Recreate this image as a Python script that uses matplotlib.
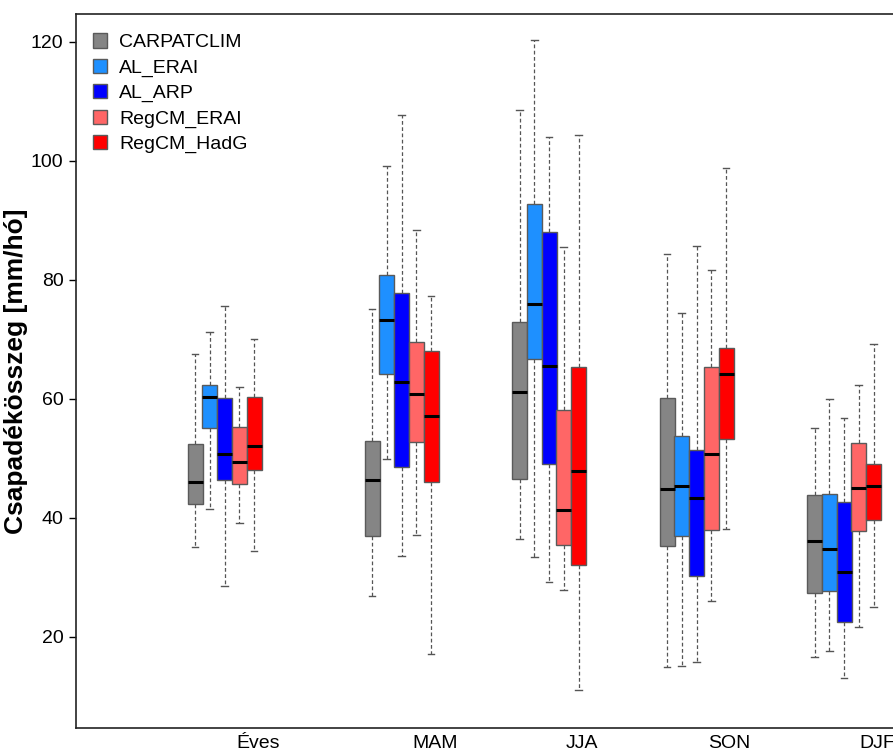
import matplotlib
matplotlib.use("Agg")
import matplotlib.pyplot as plt
from matplotlib.patches import Patch

plt.rcParams["font.family"] = ["Liberation Sans", "DejaVu Sans"]

seasons = ["Éves", "MAM", "JJA", "SON", "DJF"]
models = ["CARPATCLIM", "AL_ERAI", "AL_ARP", "RegCM_ERAI", "RegCM_HadG"]
colors = ["#858585", "#1E90FF", "#0000FF", "#FF6666", "#FF0000"]

# per model: lists over seasons (Éves, MAM, JJA, SON, DJF)
whislo = {
    "CARPATCLIM": [35.2, 26.9, 36.5, 14.9, 16.6],
    "AL_ERAI": [41.5, 49.9, 33.4, 15.2, 17.6],
    "AL_ARP": [28.5, 33.6, 29.3, 15.8, 13.1],
    "RegCM_ERAI": [39.1, 37.1, 27.9, 26.1, 21.7],
    "RegCM_HadG": [34.5, 17.1, 11.1, 38.2, 25.0],
}
q1 = {
    "CARPATCLIM": [42.4, 37.0, 46.6, 35.3, 27.4],
    "AL_ERAI": [55.2, 64.2, 66.8, 36.9, 27.8],
    "AL_ARP": [46.4, 48.6, 49.1, 30.2, 22.5],
    "RegCM_ERAI": [45.7, 52.7, 35.5, 38.0, 37.8],
    "RegCM_HadG": [48.0, 46.1, 32.1, 53.2, 39.6],
}
med = {
    "CARPATCLIM": [46.1, 46.3, 61.1, 44.9, 36.2],
    "AL_ERAI": [60.4, 73.3, 76.0, 45.3, 34.8],
    "AL_ARP": [50.8, 62.9, 65.5, 43.4, 30.9],
    "RegCM_ERAI": [49.4, 60.8, 41.3, 50.8, 45.0],
    "RegCM_HadG": [52.1, 57.1, 47.9, 64.2, 45.4],
}
q3 = {
    "CARPATCLIM": [52.4, 52.9, 73.0, 60.2, 43.9],
    "AL_ERAI": [62.4, 80.8, 92.8, 53.7, 44.1],
    "AL_ARP": [60.1, 77.8, 88.0, 51.4, 42.6],
    "RegCM_ERAI": [55.3, 69.5, 58.2, 65.4, 52.6],
    "RegCM_HadG": [60.3, 68.1, 65.4, 68.5, 49.0],
}
whishi = {
    "CARPATCLIM": [67.6, 75.2, 108.5, 84.4, 55.2],
    "AL_ERAI": [71.2, 99.2, 120.3, 74.5, 60.0],
    "AL_ARP": [75.6, 107.7, 104.0, 85.7, 56.8],
    "RegCM_ERAI": [62.0, 88.4, 85.5, 81.6, 62.3],
    "RegCM_HadG": [70.1, 77.3, 104.3, 98.9, 69.3],
}

group_start = [0, 12, 22, 32, 42]

fig = plt.figure(figsize=(8.93, 7.53), dpi=100)
ax = fig.add_axes([76 / 893, 25 / 753, 884 / 893, 714 / 753])

for m, (model, col) in enumerate(zip(models, colors)):
    stats = []
    for s in range(len(seasons)):
        stats.append(dict(whislo=whislo[model][s], q1=q1[model][s], med=med[model][s],
                          q3=q3[model][s], whishi=whishi[model][s], fliers=[]))
    pos = [g + m for g in group_start]
    ax.bxp(stats, positions=pos, widths=1.02, capwidths=0.45, patch_artist=True,
           showfliers=False,
           boxprops=dict(facecolor=col, edgecolor="#5a5a5a", linewidth=1.0),
           medianprops=dict(color="black", linewidth=2.2),
           whiskerprops=dict(color="#555555", linewidth=0.9, linestyle=(0, (3, 2))),
           capprops=dict(color="#555555", linewidth=1.0),
           zorder=3)

ax.set_xlim(-8.07, 51.86)
ax.set_ylim(4.7, 124.7)
ax.set_yticks([20, 40, 60, 80, 100, 120])
ax.set_xticks([g + 4.25 for g in group_start])
ax.set_xticklabels(seasons)
ax.tick_params(axis="x", length=0, labelsize=14, pad=5)
ax.tick_params(axis="y", length=5, width=1, labelsize=14, direction="out", pad=4)
for sp in ax.spines.values():
    sp.set_linewidth(1.2)
    sp.set_color("#222222")

ax.set_ylabel("Csapadékösszeg [mm/hó]", fontsize=19, fontweight="bold", labelpad=2)

handles = [Patch(facecolor=c, edgecolor="#5a5a5a", linewidth=1.0, label=m) for m, c in zip(models, colors)]
ax.legend(handles=handles, loc="upper left", bbox_to_anchor=(-0.003, 1.0), frameon=False,
          fontsize=14, handlelength=0.75, handleheight=0.75, handletextpad=0.6, labelspacing=0.38,
          borderaxespad=0.6)

fig.savefig("out.png", dpi=100)
